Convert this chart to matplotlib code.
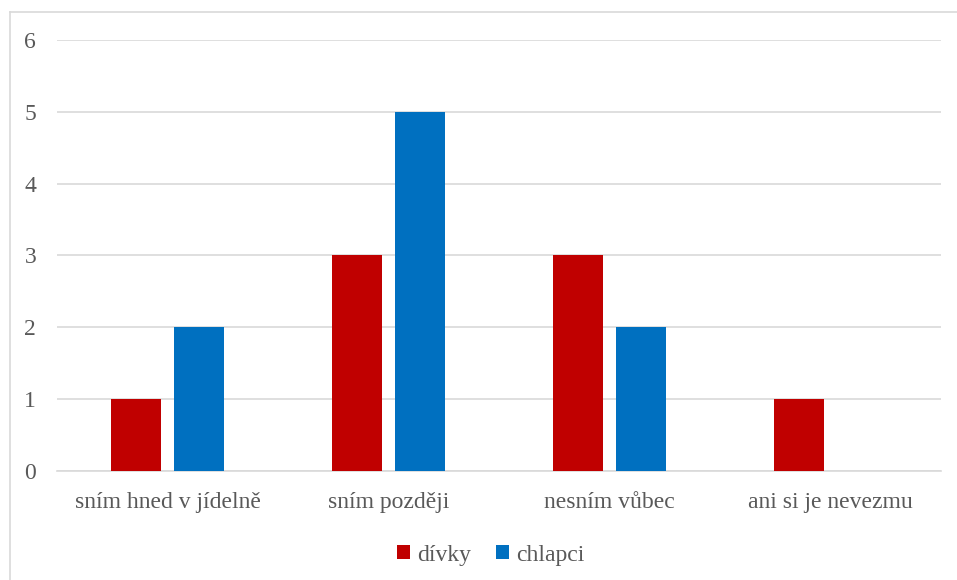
import numpy as np
import matplotlib.pyplot as plt
from matplotlib.lines import Line2D

categories = ['sním hned v jídelně', 'sním později', 'nesním vůbec', 'ani si je nevezmu']
divky = [1, 3, 3, 1]
chlapci = [2, 5, 2, 0]
series_names = ['dívky', 'chlapci']
colors = ['#C00000', '#0070C0']

plt.rcParams['font.family'] = ['Liberation Serif', 'DejaVu Serif']

fig = plt.figure(figsize=(9.57, 5.8), dpi=100)
ax = fig.add_axes([0.0596, 0.188, 0.9234, 0.743])

x = np.arange(len(categories))
w = 0.226
off = 0.1425
ax.bar(x - off, divky, w, color=colors[0], label=series_names[0], zorder=3)
ax.bar(x + off, chlapci, w, color=colors[1], label=series_names[1], zorder=3)

ax.set_xlim(-0.5, len(categories) - 0.5)
ax.set_ylim(0, 6)
ax.set_yticks(range(7))
ax.yaxis.grid(True, color='#D9D9D9', linewidth=1.2, zorder=0)
ax.set_xticks(x)
ax.set_xticklabels(categories, fontsize=17, color='#595959')
ax.tick_params(axis='y', labelsize=17, colors='#595959', length=0, pad=15)
ax.tick_params(axis='x', length=0, pad=15)
for s in ['top', 'right', 'left']:
    ax.spines[s].set_visible(False)
ax.spines['bottom'].set_color('#D9D9D9')
ax.spines['bottom'].set_linewidth(1.2)

leg = fig.legend(loc='center', bbox_to_anchor=(0.513, 0.043), ncol=2, frameon=False,
                 fontsize=17, handlelength=0.55, handleheight=0.55,
                 handletextpad=0.3, columnspacing=1.05)
for t in leg.get_texts():
    t.set_color('#595959')

# chart frame (left and top edges visible)
W, H = 957, 580
fig.add_artist(Line2D([9.5 / W, 9.5 / W], [0, 1 - 12 / H], color='#D9D9D9', linewidth=1.2,
                      transform=fig.transFigure))
fig.add_artist(Line2D([9.5 / W, 1], [1 - 12 / H, 1 - 12 / H], color='#D9D9D9', linewidth=1.2,
                      transform=fig.transFigure))

plt.savefig('out.png')
